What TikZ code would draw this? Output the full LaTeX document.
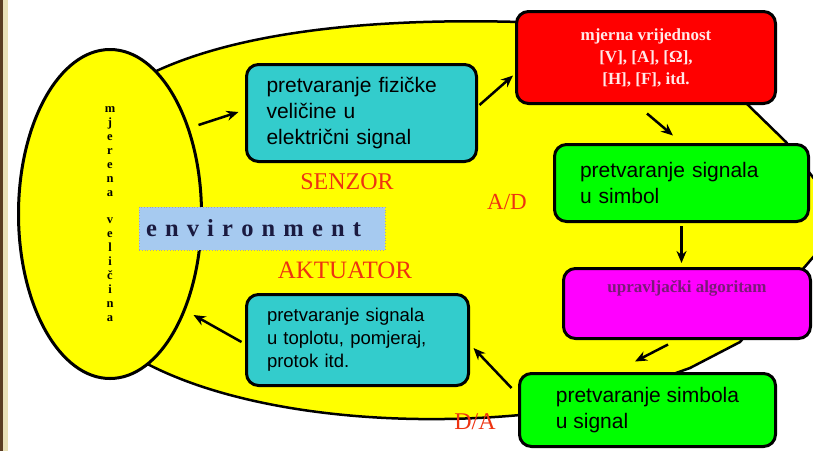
\documentclass[tikz,border=0pt]{standalone}
\usepackage{fontspec}
\setmainfont{Liberation Serif}
\setsansfont{Liberation Sans}
\usetikzlibrary{arrows.meta,shapes.geometric}
\definecolor{figyellow}{HTML}{FFFF00}
\definecolor{figteal}{HTML}{33CCCC}
\definecolor{figred}{HTML}{FF0000}
\definecolor{figgreen}{HTML}{00FF00}
\definecolor{figmagenta}{HTML}{FF00FF}
\definecolor{figsky}{HTML}{A6CAF0}
\definecolor{figlabel}{HTML}{EE3311}
\definecolor{fignavy}{HTML}{1A1A40}
\definecolor{figplum}{HTML}{7A1A78}
\definecolor{figpink}{HTML}{FFE8E8}
\definecolor{figbeige}{HTML}{E8E0B8}
\definecolor{figbrown}{HTML}{5A3D22}

\begin{document}
\begin{tikzpicture}[x=1pt, y=-1pt,
  box/.style={draw=black, line width=3pt, rounded corners=12pt, inner sep=3pt, align=left, font=\sffamily\fontsize{21}{26}\selectfont},
  lbl/.style={text=figlabel, inner sep=0, font=\fontsize{24}{28}\selectfont},
  blob/.style={draw=black, line width=2.5pt, fill=figyellow},
  arr/.style={->, line width=2.5pt},
  >={Stealth[length=12pt, width=10pt]}
]
\useasboundingbox (0,0) rectangle (813,451);
\fill[white] (0,0) rectangle (813,451);
\fill[figbeige] (0,0) rectangle (8,451);
\fill[figbrown] (0,0) rectangle (2.5,451);

% big yellow area behind everything
\draw[blob] (150,74) .. controls (240,30) and (380,18) .. (520,22)
  -- (700,22) -- (747,104) -- (786,142) -- (815,180) -- (815,255)
  -- (740,342) -- (690,368) -- (600,400)
  -- (520,415) .. controls (380,428) and (230,410) .. (140,360) -- cycle;

% measured quantity
\node[ellipse, draw=black, line width=3pt, fill=figyellow, minimum width=183pt, minimum height=329pt, inner sep=0, align=center,
  font=\bfseries\fontsize{12.5}{13.9}\selectfont] (ell) at (110,214)
  {m\\j\\e\\r\\e\\n\\a\\[13.9pt]v\\e\\l\\i\\č\\i\\n\\a};
\node[draw=gray!70, dotted, line width=0.8pt, fill=figsky, minimum width=246pt, minimum height=43pt, text width=232pt, align=left, inner sep=0,
  text=fignavy, font=\bfseries\fontsize{24.5}{30}\selectfont] (env) at (262,228.5) {e n v i r o n m e n t};

% sensor side
\node[box, fill=figteal, minimum width=230pt, minimum height=97pt, text width=190pt] (sen) at (361.5,113)
  {pretvaranje fizičke\\veličine u\\električni signal};
\node[box, fill=figred, minimum width=259pt, minimum height=92pt, align=center, text=figpink,
  font=\bfseries\fontsize{17}{22}\selectfont] (mv) at (646,57.5)
  {mjerna vrijednost\\{}[V], [A], [Ω],\\{}[H], [F], itd.};
\node[box, fill=figgreen, minimum width=254pt, minimum height=77pt, text width=203pt] (ad) at (681.5,183)
  {pretvaranje signala\\u simbol};
\node[box, fill=figmagenta, minimum width=247pt, minimum height=70pt, align=center, text=figplum, text depth=34pt,
  font=\bfseries\fontsize{17}{22}\selectfont] (alg) at (687,303.5) {upravljački algoritam};

% actuator side
\node[box, fill=figgreen, minimum width=256pt, minimum height=73pt] (da) at (647.5,410)
  {pretvaranje simbola\\u signal};
\node[box, fill=figteal, minimum width=222pt, minimum height=91pt, text width=181pt,
  font=\sffamily\fontsize{18.5}{23}\selectfont] (akt) at (357.5,340)
  {pretvaranje signala\\u toplotu, pomjeraj,\\protok itd.};

\node[lbl] (senzor) at (347,182) {SENZOR};
\node[lbl, font=\fontsize{25}{28}\selectfont] (aktuator) at (345,270) {AKTUATOR};
\node[lbl, font=\fontsize{23}{28}\selectfont] (adlbl) at (507,202) {A/D};
\node[lbl] (dalbl) at (475,422) {D/A};

% loop arrows
\draw[arr] ([shift={(-46.5,12)}]sen.west) -- ([shift={(-6.5,-1)}]sen.west);
\draw[arr] ([shift={(1.5,-8)}]sen.east) -- ([shift={(-2,18)}]mv.west);
\draw[arr] ([shift={(1,8.5)}]mv.south) -- ([shift={(-8.5,-7.5)}]ad.north);
\draw[arr, shorten <=3pt, shorten >=4pt] (ad.south) -- (ad.south |- alg.north);
\draw[arr] ([shift={(-19,4.5)}]alg.south) -- ([shift={(-12.5,-10.5)}]da.north);
\draw[arr] ([shift={(-6.5,-22)}]da.west) -- ([shift={(3.5,8)}]akt.east);
\draw[arr] ([shift={(-3.5,2)}]akt.west) -- ([shift={(-51.5,-25)}]akt.west);
\end{tikzpicture}
\end{document}
